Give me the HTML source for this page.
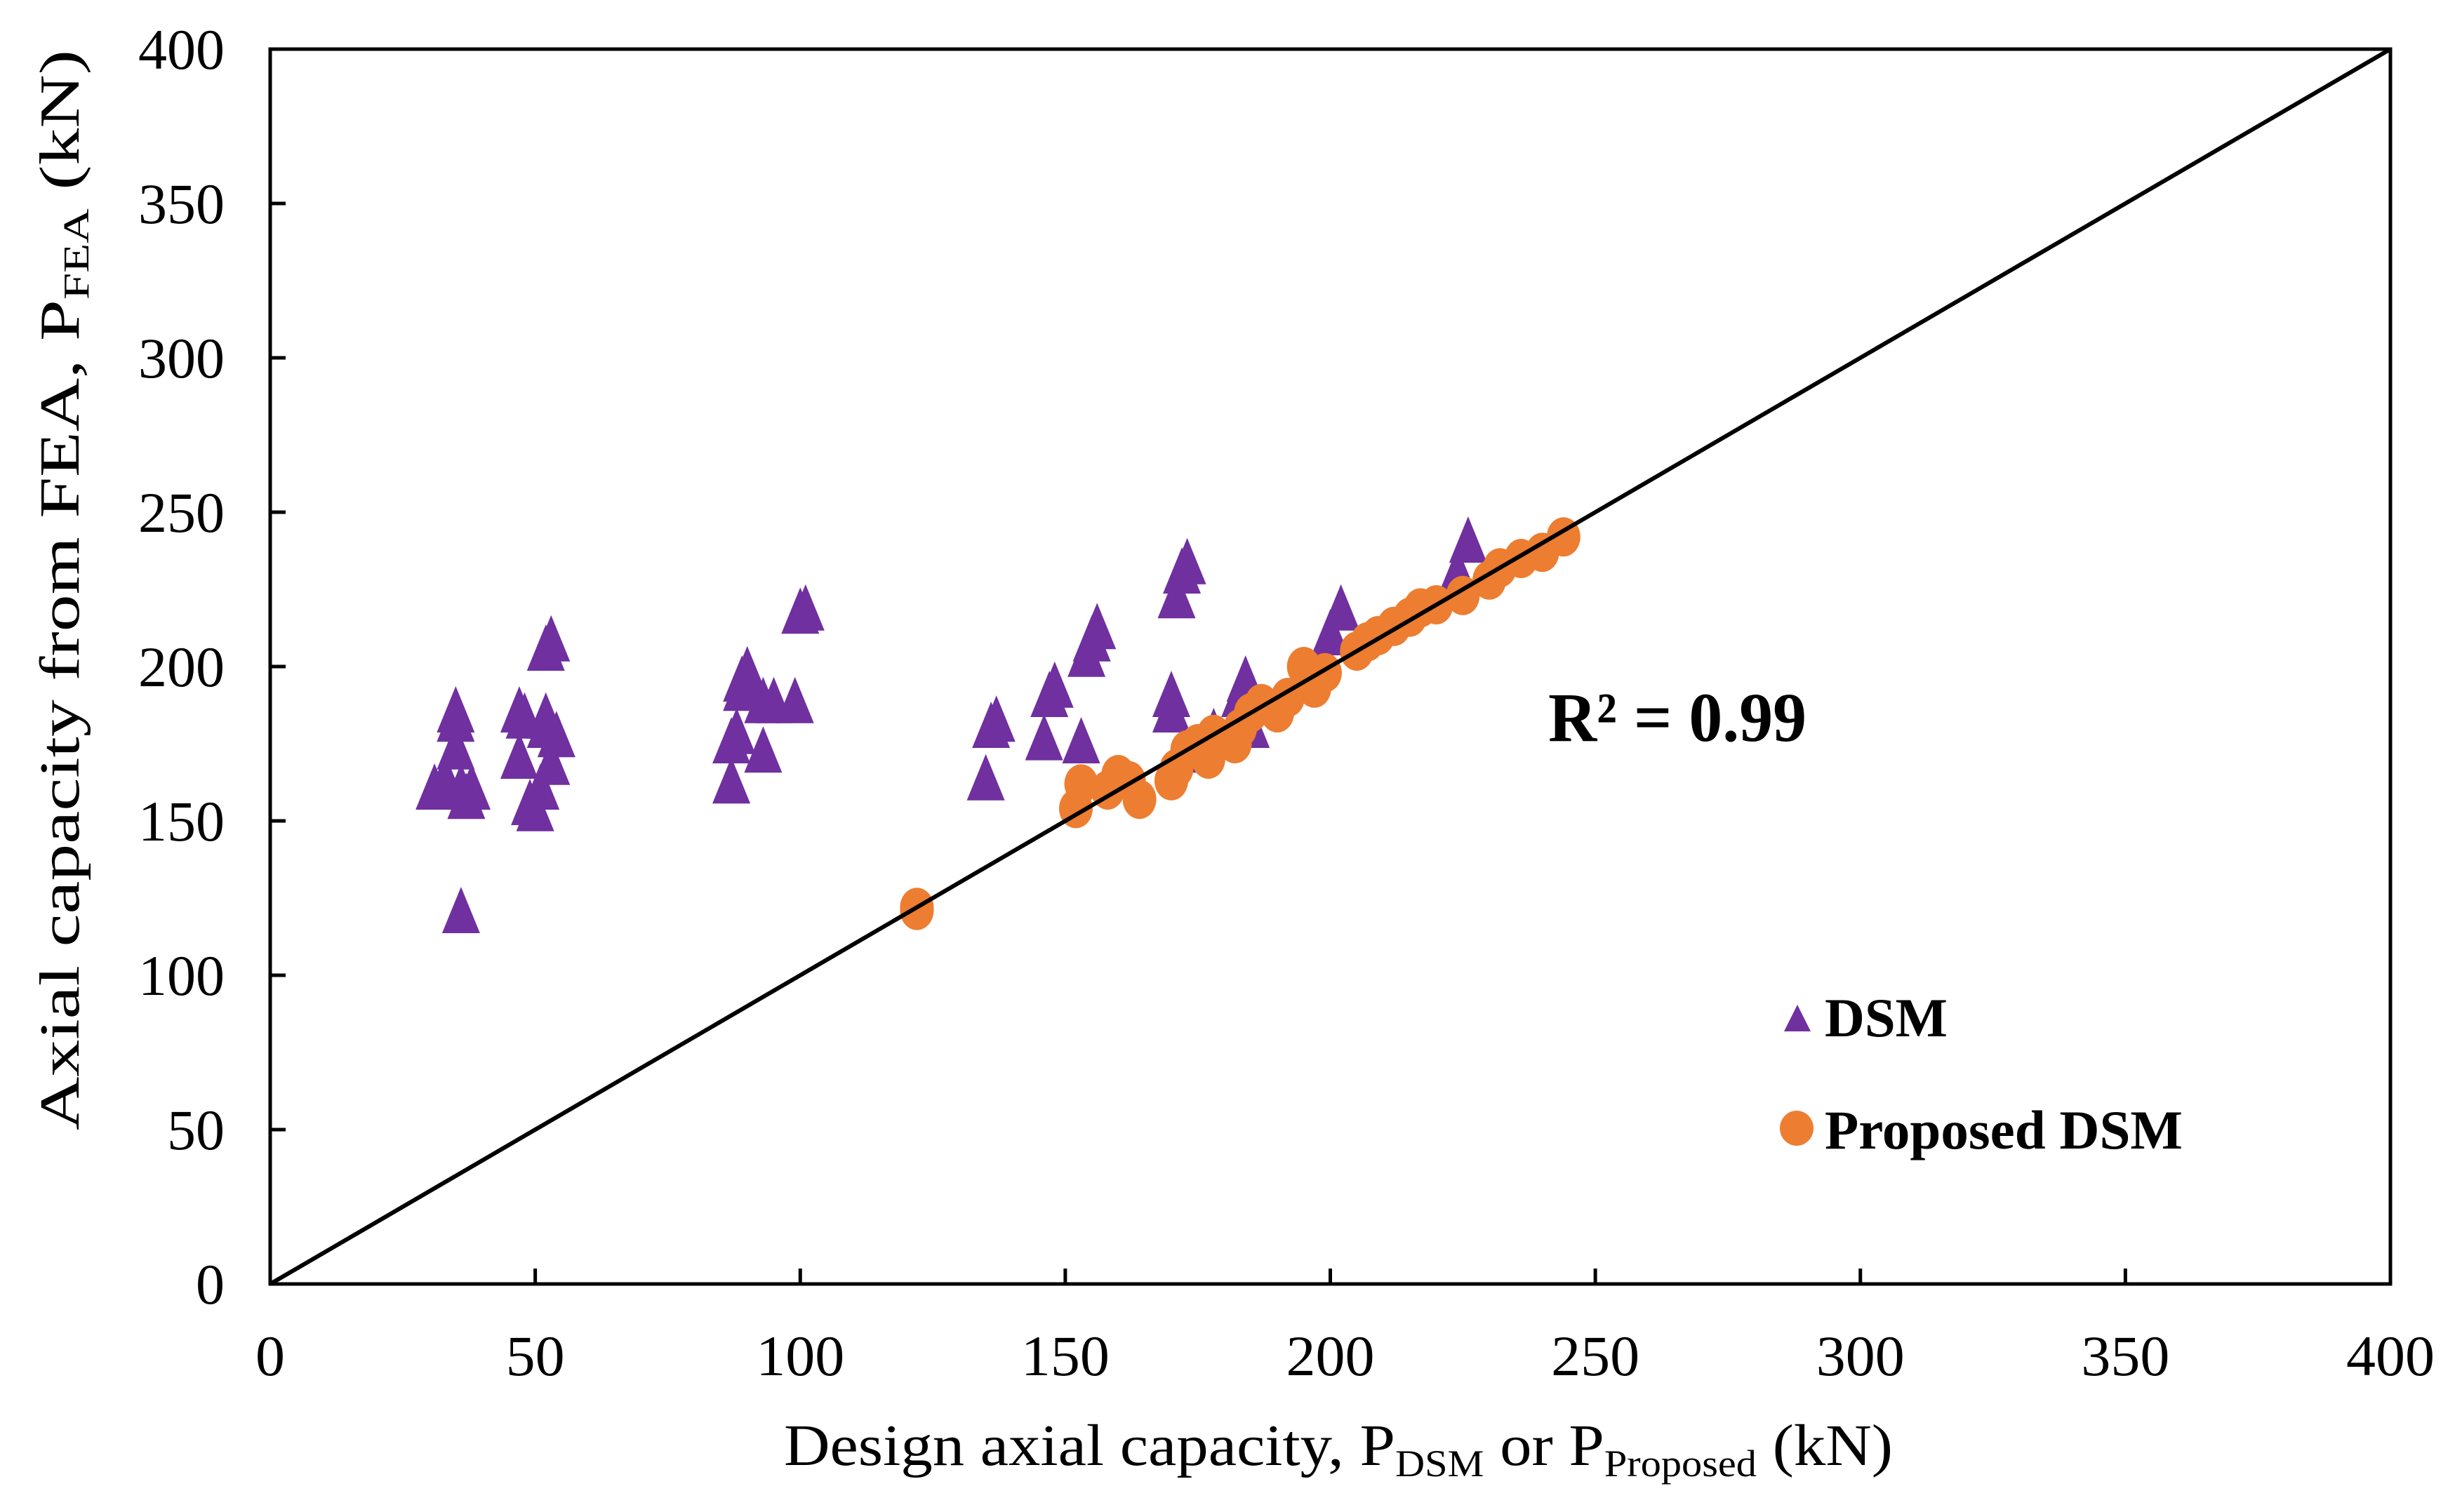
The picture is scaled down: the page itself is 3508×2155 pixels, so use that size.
<!DOCTYPE html>
<html><head><meta charset="utf-8"><style>
html,body{margin:0;padding:0;background:#fff;}
svg{display:block;font-family:"Liberation Serif",serif;}
</style></head><body>
<svg id="chart" width="3508" height="2155" viewBox="0 0 3508 2155">
<g id="axes"></g>
<g id="marks"></g>
<line id="diag" stroke="#000" stroke-width="6"/>
<text x="2206" y="1056" font-size="100" font-weight="bold" textLength="368" lengthAdjust="spacingAndGlyphs">R² = 0.99</text>
<g>
<polygon points="2561,1432 2542,1470 2580,1470" fill="#7030a0"/>
<text x="2600" y="1477" font-size="78" font-weight="bold" textLength="175" lengthAdjust="spacingAndGlyphs">DSM</text>
<ellipse cx="2560" cy="1608" rx="24" ry="25" fill="#ed7d31"/>
<text x="2600" y="1637" font-size="78" font-weight="bold" textLength="510" lengthAdjust="spacingAndGlyphs">Proposed DSM</text>
</g>
<text transform="translate(112,841) rotate(-90)" text-anchor="middle" font-size="80" textLength="1540" lengthAdjust="spacingAndGlyphs">Axial capacity from FEA, P<tspan font-size="52" dy="14">FEA</tspan><tspan dy="-14"> (kN)</tspan></text>
<text x="1907" y="2088" text-anchor="middle" font-size="84" textLength="1580" lengthAdjust="spacingAndGlyphs">Design axial capacity,  P<tspan font-size="54" dy="16">DSM</tspan><tspan dy="-16"> or P</tspan><tspan font-size="54" dy="16">Proposed</tspan><tspan dy="-16"> (kN)</tspan></text>
</svg>
<script>
const ticks = [0,50,100,150,200,250,300,350,400];
const dsmX = [31,33,35,35,35,36,36,37,38,47,47,48,49,50,51,52,52,52,53,53,54,87,87,88,89,89,90,93,93,95,99,100,101,135,136,137,146,147,148,153,154,155,156,170,170,171,172,173,183,184,185,200,202,224,226,175,178];
const dsmY = [160,163,185,182,173,120,160,157,160,170,185,183,155,153,160,183,180,205,208,168,177,162,175,178,195,192,198,172,188,188,188,217,218,163,180,182,176,190,193,175,203,208,212,185,190,222,230,233,190,195,180,210,218,230,240,172,178];
const propX = [122,122,152,153,158,160,162,164,170,171,173,175,177,178,180,182,183,185,187,190,192,195,197,199,205,207,209,212,215,217,220,225,230,232,236,240,244];
const propY = [121,122,154,162,160,165,163,157,163,167,173,175,170,178,176,175,180,185,188,185,190,200,193,198,205,208,210,213,216,219,220,223,228,232,235,237,242];
const L=385,R=3406,T=70,B=1830;
const sx=v=>L+(v/400)*(R-L), sy=v=>B-(v/400)*(B-T);
const NS="http://www.w3.org/2000/svg";
function mk(t,a,p){const e=document.createElementNS(NS,t);for(const k in a)e.setAttribute(k,a[k]);p.appendChild(e);return e;}
const axes=document.getElementById('axes'), marks=document.getElementById('marks');
const frame=mk('rect',{x:L,y:T,width:R-L,height:B-T,fill:'none',stroke:'#000','stroke-width':5},axes);


ticks.forEach(v=>{
  const a=mk('line',{x1:L,x2:L+22,y1:sy(v),y2:sy(v),stroke:'#000','stroke-width':5},axes);
  
  
  const b=mk('line',{x1:sx(v),x2:sx(v),y1:B,y2:B-22,stroke:'#000','stroke-width':5},axes);
  
  
  const s=String(v);
  const ty=mk('text',{x:320,y:sy(v)+28,'text-anchor':'end','font-size':82,textLength:s.length*41,lengthAdjust:'spacingAndGlyphs'},axes);ty.textContent=s;
  
  
  const tx=mk('text',{x:sx(v),y:1960,'text-anchor':'middle','font-size':82,textLength:s.length*42,lengthAdjust:'spacingAndGlyphs'},axes);tx.textContent=s;
  
  
});
dsmX.forEach((x,i)=>{
  const cx=sx(x),cy=sy(dsmY[i]);
  const p=mk('polygon',{points:`${cx},${cy-38} ${cx-27},${cy+28} ${cx+27},${cy+28}`,fill:'#7030a0'},marks);
  
  
});
propX.forEach((x,i)=>{
  const c=mk('ellipse',{cx:sx(x),cy:sy(propY[i]),rx:24,ry:28,fill:'#ed7d31'},marks);
  
  
});
const d=document.getElementById('diag');
d.setAttribute('x1',sx(0));d.setAttribute('y1',sy(0));d.setAttribute('x2',sx(400));d.setAttribute('y2',sy(400));
</script>
</body></html>
